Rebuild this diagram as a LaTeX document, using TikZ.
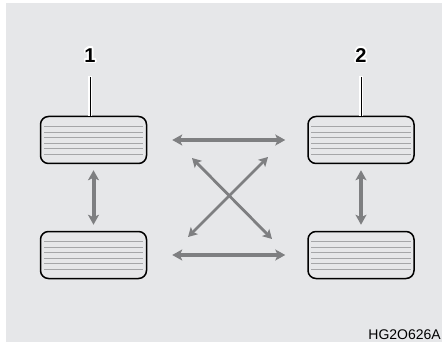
\documentclass[tikz,border=0pt]{standalone}
\usepackage{fontspec}
\setmainfont{Liberation Sans}
\usepackage{contour}
\contourlength{1.6pt}
\usetikzlibrary{arrows.meta}
\definecolor{panel}{HTML}{E6E7E9}
\definecolor{arrowgray}{HTML}{7E7F81}
\definecolor{stripe}{HTML}{A5A6A8}

\begin{document}
\begin{tikzpicture}[x=1pt,y=-1pt,
    tire/.style={draw=black,line width=1.5pt,rounded corners=8pt,fill=panel,
      minimum width=106pt,minimum height=47pt,inner sep=0pt},
    tip/.tip={Stealth[length=10pt,width=11pt,inset=2.5pt]},
    swap/.style={draw=arrowgray,line width=4pt,tip-tip},
    cross/.style={draw=arrowgray,line width=2.8pt,
      {Stealth[length=9pt,width=10pt,inset=2pt]}-{Stealth[length=9pt,width=10pt,inset=2pt]}},
    callout/.style={font=\fontsize{20}{20}\bfseries\selectfont,inner sep=0pt}]
  % frame and panel
  \fill[white] (0,0) rectangle (443,344);
  \fill[panel] (6,3) rectangle (442,342);
  % tires
  \node[tire] (t1) at (93.5,140) {};
  \node[tire] (t2) at (361,140) {};
  \node[tire] (t3) at (93.5,255) {};
  \node[tire] (t4) at (361,255) {};
  \foreach \t in {t1,t2,t3,t4}
    \foreach \dy in {-13.5,-8,-2.5,3,8.5,14}
      \draw[stripe,line width=0.8pt] ([xshift=4pt,yshift=-\dy pt]\t.west) -- ([xshift=-4pt,yshift=-\dy pt]\t.east);
  % callouts
  \node[callout] (n1) at (90,56) {\contour{white}{1}};
  \node[callout] (n2) at (361,56) {\contour{white}{2}};
  \foreach \n/\t in {n1/t1,n2/t2}{
    \draw[white,line width=4pt,shorten <=12pt] (\n.south) -- (\n.south |- \t.north);
    \draw[black,line width=1pt,shorten <=13pt] (\n.south) -- (\n.south |- \t.north);
  }
  % rotation arrows
  \draw[swap,shorten <=25pt,shorten >=22pt] (t1.east) -- (t2.west);
  \draw[swap,shorten <=25pt,shorten >=22pt] (t3.east) -- (t4.west);
  \draw[swap,shorten <=6pt,shorten >=6pt] (t1.south) -- (t3.north);
  \draw[swap,shorten <=6pt,shorten >=6pt] (t2.south) -- (t4.north);
  \coordinate (d1) at (192,158);
  \coordinate (d2) at (272,239);
  \coordinate (d3) at (268,157);
  \coordinate (d4) at (188,237);
  \draw[cross] (d1) -- (d2);
  \draw[cross] (d3) -- (d4);
  % figure code
  \node[anchor=south east,inner sep=0pt,font=\fontsize{14}{14}\selectfont] (code) at (441,340) {HG2O626A};
\end{tikzpicture}
\end{document}
